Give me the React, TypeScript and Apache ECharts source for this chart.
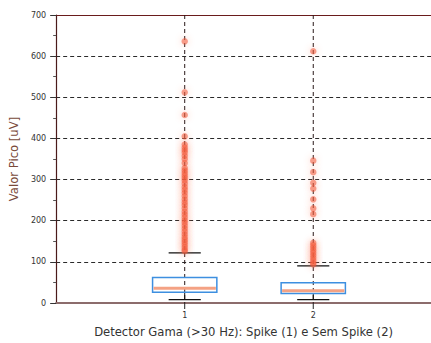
import React, { useEffect, useRef } from "react";
import * as echarts from "echarts";

const categories = [1, 2];
const lowerWhisker = [8, 8];
const q1 = [26, 23];
const median = [36, 30];
const q3 = [62, 49];
const upperWhisker = [122, 90];
const outliers1 = [636, 512, 457, 405, 385, 378, 372, 366, 358, 350, 340, 328, 322, 316, 310, 304, 298, 290, 282, 275, 268, 260, 252, 245, 238, 230, 222, 215, 208, 201, 195, 188, 181, 174, 167, 160, 154, 148, 142, 136, 130, 126];
const outliers2 = [612, 346, 318, 292, 278, 252, 230, 216, 146, 140, 134, 128, 122, 116, 110, 104, 98, 94];
const yTicks = [0, 100, 200, 300, 400, 500, 600, 700];
const xTitle = "Detector Gama (>30 Hz): Spike (1) e Sem Spike (2)";
const yTitle = "Valor Pico [uV]";

export default function App() {
  const ref = useRef<HTMLDivElement>(null);
  useEffect(() => {
    if (!ref.current) return;
    const chart = echarts.init(ref.current, null, { renderer: "svg" });
    const boxData = categories.map((c, i) => [c, lowerWhisker[i], q1[i], median[i], q3[i], upperWhisker[i]]);
    const scatterData: number[][] = [];
    outliers1.forEach((v) => scatterData.push([1, v]));
    outliers2.forEach((v) => scatterData.push([2, v]));
    const dash = [4, 3];
    chart.setOption({
      animation: false,
      grid: { left: 54, right: 0, top: 15, bottom: 36.5, containLabel: false },
      xAxis: [
        {
          type: "value",
          min: 0,
          max: 2.916,
          interval: 1,
          name: xTitle,
          nameLocation: "middle",
          nameGap: 23,
          nameTextStyle: { fontFamily: "DejaVu Sans", fontSize: 11.6, color: "#333" },
          axisLine: { show: true, lineStyle: { color: "#8c6c6c", width: 2 } },
          axisTick: { show: false },
          splitLine: { show: false },
          axisLabel: {
            margin: 8,
            fontFamily: "DejaVu Sans",
            fontSize: 8,
            color: "#333",
            showMaxLabel: false,
            formatter: (v: number) => (v === 1 || v === 2 ? String(v) : ""),
          },
        },
        {
          type: "value",
          position: "top",
          min: 0,
          max: 2.916,
          axisLine: { show: true, lineStyle: { color: "#6a1c1c", width: 1.2 } },
          axisTick: { show: false },
          axisLabel: { show: false },
          splitLine: { show: false },
        },
      ],
      yAxis: {
        type: "value",
        min: yTicks[0],
        max: yTicks[yTicks.length - 1],
        interval: 100,
        name: yTitle,
        nameLocation: "middle",
        nameGap: 31,
        nameTextStyle: { fontFamily: "DejaVu Sans", fontSize: 11.6, color: "#7a4a3a" },
        axisLine: { show: true, lineStyle: { color: "#4a1a1a", width: 1.2 } },
        axisTick: { show: true, length: 6, lineStyle: { color: "#333" } },
        minorTick: { show: true, splitNumber: 2, length: 3, lineStyle: { color: "#555" } },
        axisLabel: { margin: 10, fontFamily: "DejaVu Sans", fontSize: 8, color: "#333" },
        splitLine: { show: true, lineStyle: { color: "#2a2a2a", type: dash, width: 1 } },
      },
      series: [
        {
          type: "custom",
          clip: false,
          z: 3,
          data: categories.map((c) => [c]),
          renderItem: (params: any, api: any) => {
            const x = api.value(0);
            const top = api.coord([x, 700]);
            const bot = api.coord([x, 0]);
            return {
              type: "group",
              children: [
                {
                  type: "line",
                  shape: { x1: top[0], y1: top[1], x2: bot[0], y2: bot[1] },
                  style: { stroke: "#2a1a1a", lineWidth: 1, lineDash: dash },
                },
                {
                  type: "line",
                  shape: { x1: bot[0], y1: bot[1], x2: bot[0], y2: bot[1] + 6 },
                  style: { stroke: "#222", lineWidth: 1 },
                },
              ],
            };
          },
        },
        {
          type: "custom",
          z: 4,
          data: boxData,
          renderItem: (params: any, api: any) => {
            const x = api.value(0);
            const lw = api.value(1);
            const a = api.value(2);
            const m = api.value(3);
            const b = api.value(4);
            const uw = api.value(5);
            const halfBox = 0.25;
            const halfCap = 0.125;
            const pQ1L = api.coord([x - halfBox, a]);
            const pQ3R = api.coord([x + halfBox, b]);
            const pML = api.coord([x - halfBox, m]);
            const pMR = api.coord([x + halfBox, m]);
            const pLwL = api.coord([x - halfCap, lw]);
            const pLwR = api.coord([x + halfCap, lw]);
            const pUwL = api.coord([x - halfCap, uw]);
            const pUwR = api.coord([x + halfCap, uw]);
            const pQ1 = api.coord([x, a]);
            const pLw = api.coord([x, lw]);
            return {
              type: "group",
              children: [
                {
                  type: "line",
                  shape: { x1: pQ1[0], y1: pQ1[1], x2: pLw[0], y2: pLw[1] },
                  style: { stroke: "#111", lineWidth: 1 },
                },
                {
                  type: "rect",
                  shape: { x: pQ1L[0], y: pQ3R[1], width: pQ3R[0] - pQ1L[0], height: pQ1L[1] - pQ3R[1] },
                  style: { fill: "rgba(255,255,255,0)", stroke: "#3d8fe0", lineWidth: 1.5 },
                },
                {
                  type: "line",
                  shape: { x1: pML[0] + 1, y1: pML[1], x2: pMR[0] - 1, y2: pMR[1] },
                  style: { stroke: "#f4a284", lineWidth: 3 },
                },
                {
                  type: "line",
                  shape: { x1: pLwL[0], y1: pLwL[1], x2: pLwR[0], y2: pLwR[1] },
                  style: { stroke: "#111", lineWidth: 1.2 },
                },
                {
                  type: "line",
                  shape: { x1: pUwL[0], y1: pUwL[1], x2: pUwR[0], y2: pUwR[1] },
                  style: { stroke: "#111", lineWidth: 1.2 },
                },
              ],
            };
          },
        },
        {
          type: "scatter",
          z: 5,
          data: scatterData,
          symbol: "circle",
          symbolSize: 6.5,
          itemStyle: {
            color: "rgba(242,90,60,0.7)",
            shadowBlur: 6,
            shadowColor: "rgba(245,110,80,0.6)",
          },
        },
      ],
    });
    return () => chart.dispose();
  }, []);
  return <div ref={ref} style={{ position: "fixed", left: 0, top: 0, width: 431, height: 343, background: "#fff" }} />;
}
